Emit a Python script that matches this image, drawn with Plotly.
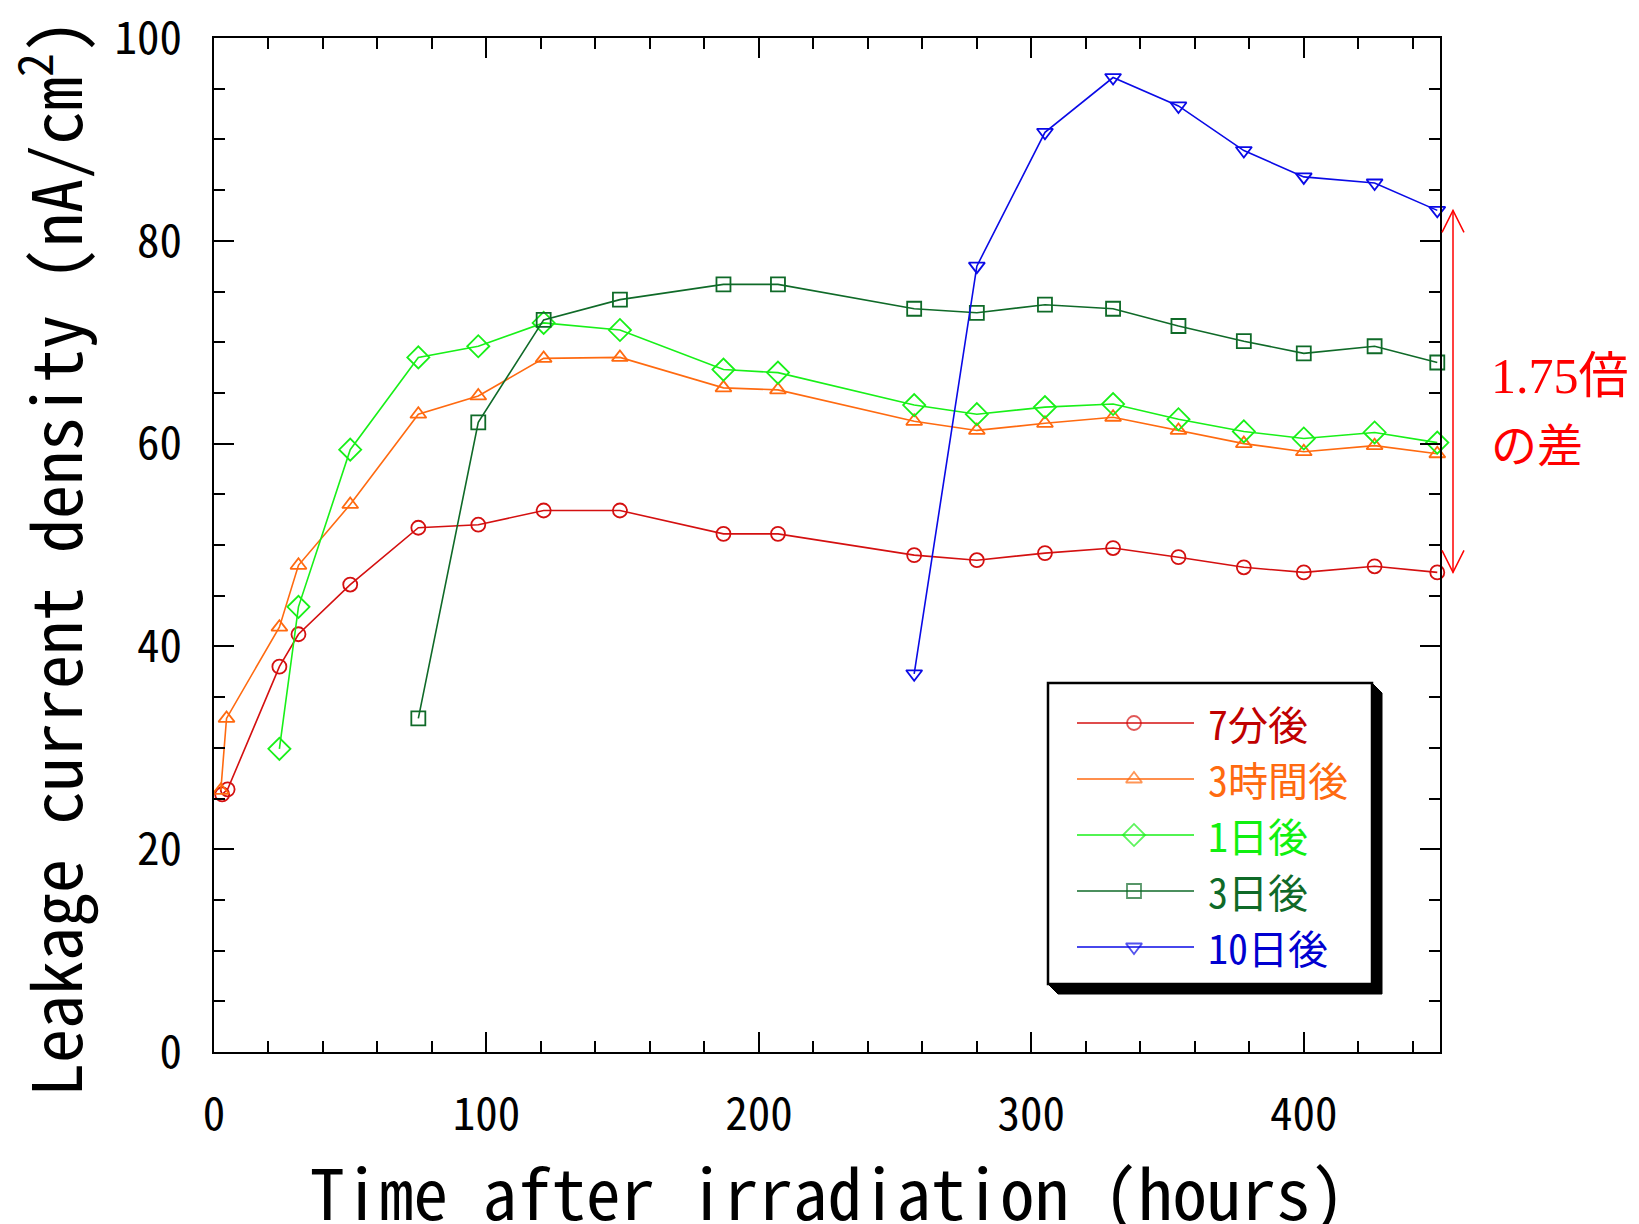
import plotly.graph_objects as go

# ---------------- data ----------------
x_7min = [3, 5, 24, 31, 50, 75, 97, 121, 149, 187, 207, 257, 280, 305, 330, 354, 378, 400, 426, 449]
y_7min = [25.4, 25.9, 38.0, 41.2, 46.1, 51.7, 52.0, 53.4, 53.4, 51.1, 51.1, 49.0, 48.5, 49.2, 49.7, 48.8, 47.8, 47.3, 47.9, 47.3]

x_3h = [2.5, 4.6, 24, 31, 50, 75, 97, 121, 149, 187, 207, 257, 280, 305, 330, 354, 378, 400, 426, 449]
y_3h = [25.8, 32.9, 41.9, 48.0, 54.0, 62.9, 64.7, 68.4, 68.5, 65.5, 65.3, 62.2, 61.3, 62.0, 62.6, 61.3, 60.0, 59.2, 59.8, 59.0]

x_1d = [24, 31, 50, 75, 97, 121, 149, 187, 207, 257, 280, 305, 330, 354, 378, 400, 426, 449]
y_1d = [29.9, 43.9, 59.4, 68.5, 69.6, 71.9, 71.2, 67.3, 67.0, 63.8, 62.9, 63.6, 63.9, 62.4, 61.2, 60.5, 61.1, 60.1]

x_3d = [75, 97, 121, 149, 187, 207, 257, 280, 305, 330, 354, 378, 400, 426, 449]
y_3d = [32.9, 62.1, 72.2, 74.2, 75.7, 75.7, 73.3, 72.9, 73.7, 73.3, 71.6, 70.1, 68.9, 69.6, 68.0]

x_10d = [257, 280, 305, 330, 354, 378, 400, 426, 449]
y_10d = [37.3, 77.5, 90.7, 96.1, 93.3, 88.9, 86.3, 85.7, 83.0]

series_names = ["7分後", "3時間後", "1日後", "3日後", "10日後"]
x_tick_vals = [0, 100, 200, 300, 400]
y_tick_vals = [0, 20, 40, 60, 80, 100]
ratio_label = "1.75倍"
ratio_label2 = "の差"

# ---------------- style ----------------
W, H = 1639, 1224
L, R, T, B = 214, 199, 38, 172
PW, PH = W - L - R, H - T - B

MONO = "Noto Sans Mono CJK JP, Noto Sans CJK JP, DejaVu Sans Mono, monospace"
colors = ["#D41010", "#FF6A10", "#18F018", "#0F6A28", "#0A0AE6"]
text_colors = ["#C00000", "#FF6A10", "#10F010", "#0F6A28", "#0000D0"]
symbols = ["circle-open", "triangle-up-open", "diamond-open", "square-open", "triangle-down-open"]
sizes = [14, 14, 17, 14, 14]

xs = [x_7min, x_3h, x_1d, x_3d, x_10d]
ys = [y_7min, y_3h, y_1d, y_3d, y_10d]


def px(xpix):
    return (xpix - L) / PW


def py(ypix):
    return (H - B - ypix) / PH


fig = go.Figure()
for name, x, y, c, s, sz in zip(series_names, xs, ys, colors, symbols, sizes):
    fig.add_trace(go.Scatter(
        x=x, y=y, name=name, mode="lines+markers",
        line=dict(color=c, width=1.6),
        marker=dict(symbol=s, size=sz, color=c, line=dict(width=1.8, color=c)),
        cliponaxis=False,
    ))

# ---------------- custom legend ----------------
box_x0, box_x1 = px(1048), px(1372)
box_y0, box_y1 = py(984), py(683)
dxs, dys = 10 / PW, 10 / PH
shapes = []
shapes.append(dict(
    type="path", xref="paper", yref="paper", layer="below",
    path=(f"M{box_x1},{box_y1} L{box_x1 + dxs},{box_y1 - dys} L{box_x1 + dxs},{box_y0 - dys} "
          f"L{box_x0 + dxs},{box_y0 - dys} L{box_x0},{box_y0} Z"),
    fillcolor="black", line=dict(color="black", width=1),
))
shapes.append(dict(
    type="rect", xref="paper", yref="paper", layer="below",
    x0=box_x0, x1=box_x1, y0=box_y0, y1=box_y1,
    fillcolor="white", line=dict(color="black", width=2.5),
))
row_pix = [723, 779, 835, 891, 947]
line_x0, line_x1, mark_x, text_x = px(1077), px(1194), px(1134), px(1206)
annotations = []
for i, (name, rp) in enumerate(zip(series_names, row_pix)):
    yy = py(rp)
    shapes.append(dict(type="line", xref="paper", yref="paper", layer="below",
                       x0=line_x0, x1=line_x1, y0=yy, y1=yy,
                       line=dict(color=colors[i], width=1.6)))
    annotations.append(dict(xref="paper", yref="paper", x=text_x, y=yy,
                            xanchor="left", yanchor="middle", showarrow=False,
                            text=name, font=dict(family=MONO, size=40, color=text_colors[i])))
fig.add_trace(go.Scatter(
    x=[mark_x] * 5, y=[py(r) for r in row_pix], xaxis="x2", yaxis="y2",
    mode="markers", showlegend=False, hoverinfo="skip",
    marker=dict(symbol=symbols, size=sizes, color=colors, line=dict(width=1.8, color=colors)),
    cliponaxis=False,
))

# ---------------- ratio arrow ----------------
arrow_x = px(1453)
y_top, y_bot = y_10d[-1], y_7min[-1]
red = "#FF0000"
shapes.append(dict(type="line", xref="paper", yref="y", x0=arrow_x, x1=arrow_x,
                   y0=y_bot, y1=y_top, line=dict(color=red, width=1.5), layer="above"))
shapes.append(dict(type="path", xref="paper", yref="y", xsizemode="pixel", ysizemode="pixel",
                   xanchor=arrow_x, yanchor=y_top, path="M-11,-22 L0,0 L11,-22",
                   line=dict(color=red, width=1.5), layer="above"))
shapes.append(dict(type="path", xref="paper", yref="y", xsizemode="pixel", ysizemode="pixel",
                   xanchor=arrow_x, yanchor=y_bot, path="M-11,22 L0,0 L11,22",
                   line=dict(color=red, width=1.5), layer="above"))
SERIF = "Liberation Serif, Noto Sans CJK JP, serif"
annotations.append(dict(xref="paper", yref="paper", x=px(1489), y=py(376), xanchor="left",
                        yanchor="middle", showarrow=False, text=ratio_label,
                        font=dict(family=SERIF, size=50, color=red)))
annotations.append(dict(xref="paper", yref="paper", x=px(1489), y=py(442), xanchor="left",
                        yanchor="middle", showarrow=False, text=ratio_label2,
                        font=dict(family="Noto Sans CJK JP", size=46, color=red)))

# ---------------- axis titles ----------------
annotations.append(dict(xref="paper", yref="paper", x=0.5, y=py(1190), xanchor="center",
                        yanchor="middle", showarrow=False,
                        text="Time after irradiation (hours)",
                        font=dict(family=MONO, size=69, color="black")))
annotations.append(dict(xref="paper", yref="paper", x=px(50), y=py(558), xanchor="center",
                        yanchor="middle", showarrow=False, textangle=-90,
                        text="Leakage current density (nA/cm<sup>2</sup>)",
                        font=dict(family=MONO, size=68, color="black")))

axis_common = dict(
    showgrid=False, zeroline=False, showline=True, linecolor="black", linewidth=2,
    mirror="allticks", ticks="inside", ticklen=20, tickwidth=1.6, tickcolor="black",
    tickfont=dict(family=MONO, size=45, color="black"), automargin=False,
    ticklabeloverflow="allow",
)
fig.update_layout(
    width=W, height=H,
    margin=dict(l=L, r=R, t=T, b=B, autoexpand=False),
    paper_bgcolor="white", plot_bgcolor="white",
    showlegend=False,
    xaxis=dict(range=[0, 450], tickvals=x_tick_vals, ticklabelstandoff=22,
               minor=dict(dtick=20, ticks="inside", ticklen=11, tickwidth=1.6, tickcolor="black"),
               **axis_common),
    yaxis=dict(range=[0, 100], tickvals=y_tick_vals, ticklabelstandoff=21,
               minor=dict(dtick=5, ticks="inside", ticklen=11, tickwidth=1.6, tickcolor="black"),
               **axis_common),
    xaxis2=dict(overlaying="x", range=[0, 1], visible=False),
    yaxis2=dict(overlaying="y", range=[0, 1], visible=False),
    shapes=shapes,
    annotations=annotations,
)

fig.write_html("out.html")
